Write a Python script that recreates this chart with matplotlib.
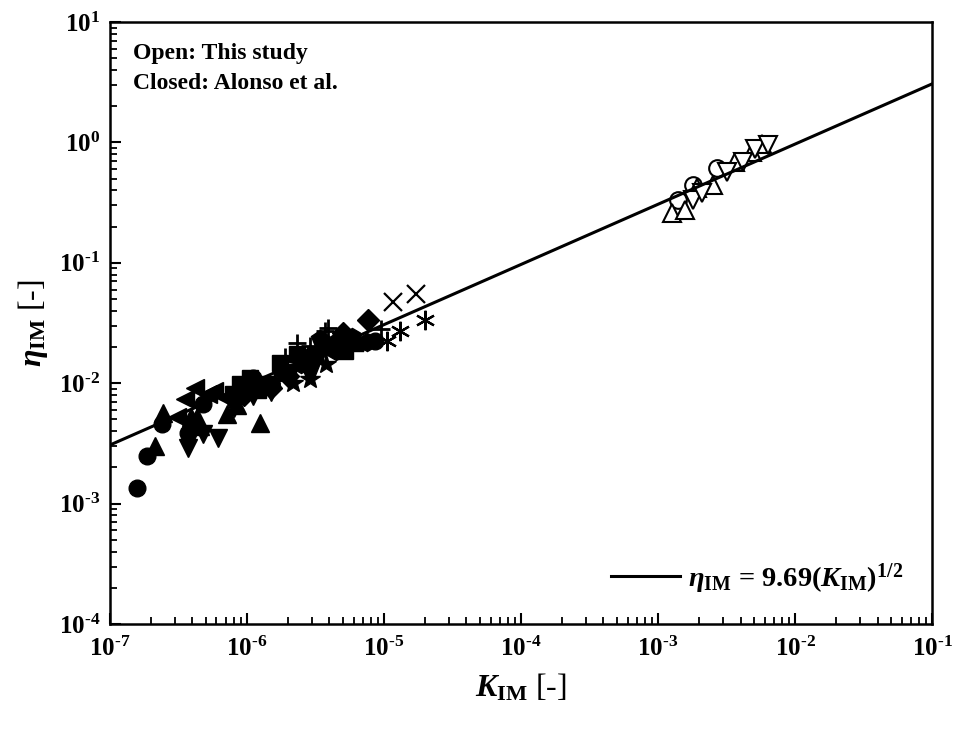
import numpy as np
import matplotlib
matplotlib.use("Agg")
import matplotlib.pyplot as plt
from matplotlib.ticker import FuncFormatter, FixedLocator

plt.rcParams['font.family'] = ['Liberation Serif', 'DejaVu Serif']
plt.rcParams['font.weight'] = 'bold'
plt.rcParams['mathtext.fontset'] = 'custom'
plt.rcParams['mathtext.rm'] = 'Liberation Serif:bold'
plt.rcParams['mathtext.it'] = 'Liberation Serif:bold:italic'
plt.rcParams['mathtext.bf'] = 'Liberation Serif:bold'

# fit: eta = 9.69 * K^0.5
fit_coef = 9.69
fit_exp = 0.5

# open symbols: this study
open_up_K = [1.26e-3, 1.57e-3, 1.93e-3, 2.52e-3, 3.65e-3, 4.85e-3, 5.74e-3]
open_up_eta = [0.258, 0.273, 0.416, 0.44, 0.684, 0.83, 0.97]
open_down_K = [1.80e-3, 2.09e-3, 3.19e-3, 4.17e-3, 5.10e-3, 6.35e-3]
open_down_eta = [0.33, 0.378, 0.565, 0.684, 0.88, 0.95]
open_circ_K = [1.40e-3, 1.80e-3, 2.70e-3]
open_circ_eta = [0.33, 0.44, 0.61]

# closed symbols: Alonso et al.
circ_K = [1.57e-7, 1.86e-7, 2.40e-7, 3.71e-7, 4.77e-7, 1.10e-6, 8.6e-6]
circ_eta = [0.00135, 0.0025, 0.00461, 0.00388, 0.00676, 0.011, 0.0226]
up_K = [2.13e-7, 2.44e-7, 3.9e-7, 4.3e-7, 4.54e-7, 7.14e-7, 1.24e-6, 8.5e-7]
up_eta = [0.00303, 0.00569, 0.0052, 0.0052, 0.00444, 0.00558, 0.0047, 0.0066]
down_K = [3.71e-7, 4.77e-7, 6.14e-7, 8.0e-7, 1.5e-6, 1.1e-6]
down_eta = [0.0029, 0.0038, 0.0035, 0.0062, 0.0085, 0.0078]
left_K = [3.08e-7, 3.53e-7, 4.17e-7, 5.19e-7, 5.8e-7, 7.0e-7]
left_eta = [0.0052, 0.00745, 0.0092, 0.0082, 0.0087, 0.0075]
sq_K = [7.9e-7, 8.9e-7, 1.05e-6, 1.40e-6, 1.74e-6, 2.32e-6, 3.14e-6, 4.03e-6, 5.19e-6, 1.2e-6, 2.0e-6]
sq_eta = [0.0082, 0.0099, 0.0111, 0.0099, 0.0146, 0.0176, 0.0172, 0.0205, 0.0185, 0.0088, 0.0125]
dia_K = [9.5e-7, 1.5e-6, 2.0e-6, 5.0e-6, 7.64e-6]
dia_eta = [0.0080, 0.0092, 0.0115, 0.026, 0.0332]
pent_K = [2.6e-6, 3.4e-6, 4.3e-6, 5.5e-6, 6.5e-6, 2.9e-6]
pent_eta = [0.0165, 0.0235, 0.0215, 0.024, 0.021, 0.0135]
star_K = [1.8e-6, 2.17e-6, 2.88e-6, 3.8e-6, 1.6e-6]
star_eta = [0.0118, 0.0100, 0.0109, 0.0145, 0.0105]
hexa_K = [3.0e-6, 4.5e-6, 5.84e-6, 7.5e-6, 2.5e-6, 3.6e-6]
hexa_eta = [0.0160, 0.0185, 0.024, 0.022, 0.0145, 0.0195]
plus_K = [1.9e-6, 2.32e-6, 2.88e-6, 3.71e-6, 3.9e-6, 9.5e-6]
plus_eta = [0.0165, 0.0214, 0.0205, 0.0272, 0.0285, 0.028]
x_K = [1.16e-5, 1.71e-5]
x_eta = [0.0469, 0.0546]
ast_K = [1.05e-5, 1.31e-5, 1.99e-5]
ast_eta = [0.0226, 0.0274, 0.0332]

# axis decades
x_exps = [-7, -6, -5, -4, -3, -2, -1]
y_exps = [-4, -3, -2, -1, 0, 1]

fig = plt.figure(figsize=(9.55, 7.35), dpi=100)
ax = fig.add_axes([0.115, 0.151, 0.861, 0.819])

# fitted line
Kfit = np.logspace(-7, -1, 200)
ax.plot(Kfit, fit_coef * Kfit**fit_exp, 'k-', lw=2.2, zorder=4,
        label=r'$\eta_{\mathrm{IM}}$ = 9.69($K_{\mathrm{IM}}$)$^{\mathrm{1/2}}$')

# filled markers
filled = [(circ_K, circ_eta, 'o', 12), (up_K, up_eta, '^', 13), (down_K, down_eta, 'v', 13),
          (left_K, left_eta, '<', 13), (sq_K, sq_eta, 's', 12), (dia_K, dia_eta, 'D', 11),
          (pent_K, pent_eta, 'p', 13), (star_K, star_eta, '*', 15), (hexa_K, hexa_eta, 'h', 13)]
for kk, ee, m, ms in filled:
    ax.plot(kk, ee, ls='none', marker=m, ms=ms, mfc='k', mec='k', zorder=3)
ax.plot(plus_K, plus_eta, ls='none', marker='+', ms=13, mew=2, color='k', zorder=3)
ax.plot(x_K, x_eta, ls='none', marker='x', ms=13, mew=1.6, color='k', zorder=3)
ax.plot(ast_K, ast_eta, ls='none', marker=(6, 2, 0), ms=14, mew=1.6, color='k', zorder=3)

# open markers
ax.plot(open_up_K, open_up_eta, ls='none', marker='^', ms=13, mfc='white', mec='k', mew=1.5, zorder=3)
ax.plot(open_down_K, open_down_eta, ls='none', marker='v', ms=13, mfc='white', mec='k', mew=1.5, zorder=3)
ax.plot(open_circ_K, open_circ_eta, ls='none', marker='o', ms=12, mfc='white', mec='k', mew=1.5, zorder=2)

ax.set_xscale('log')
ax.set_yscale('log')
ax.set_xlim(1e-7, 1e-1)
ax.set_ylim(1e-4, 1e1)

def pow_label(v, pos):
    e = int(round(np.log10(v)))
    return r'$\mathrm{10}^{\text{%d}}$' % e

def minor_list(exps):
    out = []
    for e in exps[:-1]:
        out += [m * 10.0**e for m in range(2, 10)]
    return out

ax.xaxis.set_major_locator(FixedLocator([10.0**e for e in x_exps]))
ax.yaxis.set_major_locator(FixedLocator([10.0**e for e in y_exps]))
ax.xaxis.set_minor_locator(FixedLocator(minor_list(x_exps)))
ax.yaxis.set_minor_locator(FixedLocator(minor_list(y_exps)))
ax.xaxis.set_major_formatter(FuncFormatter(pow_label))
ax.yaxis.set_major_formatter(FuncFormatter(pow_label))
ax.xaxis.set_minor_formatter(plt.NullFormatter())
ax.yaxis.set_minor_formatter(plt.NullFormatter())

for s in ax.spines.values():
    s.set_linewidth(1.8)
ax.tick_params(which='both', direction='in', top=False, right=False, labelsize=18)
ax.tick_params(which='major', length=8, width=1.5)
ax.tick_params(which='minor', length=5, width=1.3)
ax.tick_params(axis='x', pad=9)
ax.tick_params(axis='y', pad=7)

ax.set_xlabel(r'$K_{\mathrm{IM}}$ [-]', fontsize=23, labelpad=8)
ax.set_ylabel(r'$\eta_{\mathrm{IM}}$ [-]', fontsize=23, labelpad=6)

ax.text(0.028, 0.966, 'Open: This study', transform=ax.transAxes, fontsize=17,
        fontweight='bold', va='top')
ax.text(0.028, 0.916, 'Closed: Alonso et al.', transform=ax.transAxes, fontsize=17,
        fontweight='bold', va='top')

ax.legend(loc='lower right', frameon=False, fontsize=20.5, handlelength=2.4,
          handletextpad=0.3, borderaxespad=0.6)

fig.savefig('out.png', dpi=100)
